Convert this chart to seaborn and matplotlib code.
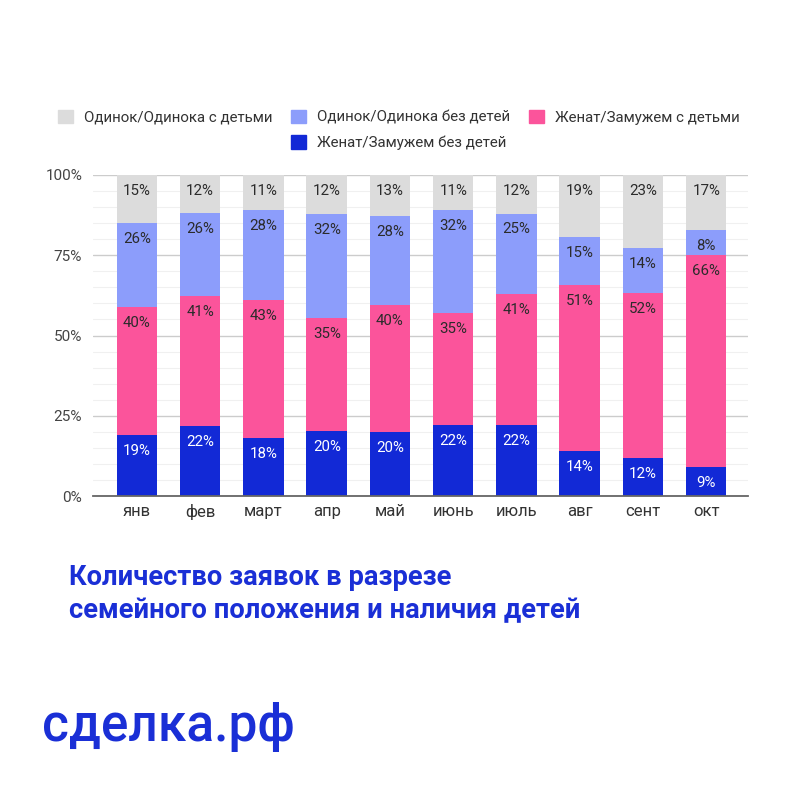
import matplotlib
matplotlib.use("Agg")
import matplotlib.pyplot as plt
import matplotlib.patches as mpatches
import numpy as np
import pandas as pd
import seaborn as sns

# Data (shares in %, as labelled on the chart)
months = ["янв", "фев", "март", "апр", "май", "июнь", "июль", "авг", "сент", "окт"]
married_no_kids = [19, 22, 18, 20, 20, 22, 22, 14, 12, 9]
married_kids = [40, 41, 43, 35, 40, 35, 41, 51, 52, 66]
single_no_kids = [26, 26, 28, 32, 28, 32, 25, 15, 14, 8]
single_kids = [15, 12, 11, 12, 13, 11, 12, 19, 23, 17]

series_names = ["Женат/Замужем без детей", "Женат/Замужем с детьми",
                "Одинок/Одинока без детей", "Одинок/Одинока с детьми"]
colors = ["#1229d6", "#fb549b", "#8c9dfb", "#dcdcdc"]
label_colors = ["white", "#2b2b2b", "#2b2b2b", "#2b2b2b"]

sns.set_theme(style="white")
plt.rcParams["font.family"] = ["Roboto", "DejaVu Sans"]

layers = np.array([married_no_kids, married_kids, single_no_kids, single_kids], dtype=float)
# 100% stacked: normalise each month to its total
shares = layers / layers.sum(axis=0) * 100
tops = np.cumsum(shares, axis=0)

fig = plt.figure(figsize=(8, 8), dpi=100)
ax = fig.add_axes([0.1166, 0.38, 0.8184, 0.40125])

# draw from the tallest (cumulative) layer down so each covers the one below
for i in range(3, -1, -1):
    df = pd.DataFrame({"month": months, "top": tops[i]})
    sns.barplot(data=df, x="month", y="top", color=colors[i], saturation=1,
                width=0.64, linewidth=0, edgecolor="none", ax=ax, zorder=3)

for i in range(4):
    for j, m in enumerate(months):
        ax.annotate(f"{layers[i][j]:.0f}%", xy=(j, tops[i][j]), xytext=(0, -11.5),
                    textcoords="offset points", ha="center", va="center",
                    fontsize=10.8, color=label_colors[i], zorder=5)

ax.set_xlim(-0.69, 9.66)
ax.set_ylim(0, 100)
ax.set_yticks([0, 25, 50, 75, 100])
ax.set_yticklabels(["0%", "25%", "50%", "75%", "100%"])
ax.set_yticks(np.arange(0, 101, 5), minor=True)
ax.grid(axis="y", which="major", color="#cccccc", linewidth=1, zorder=0)
ax.grid(axis="y", which="minor", color="#f0f0f0", linewidth=0.8, zorder=0)
ax.set_axisbelow(True)
ax.set_xlabel("")
ax.set_ylabel("")
for s in ["top", "right", "left"]:
    ax.spines[s].set_visible(False)
ax.spines["bottom"].set_color("#666666")
ax.spines["bottom"].set_linewidth(1.3)
ax.spines["bottom"].set_zorder(4)
ax.tick_params(axis="y", which="both", length=0, labelsize=11, labelcolor="#444444", pad=8)
ax.tick_params(axis="x", length=0, labelsize=12, labelcolor="#333333", pad=6)

# legend: gray | light blue / dark blue | pink
blank = mpatches.Patch(color="none", label="")
h = [mpatches.Patch(color=c, label=n) for c, n in zip(colors, series_names)]
fig.legend(handles=[h[3], blank, h[2], h[0], h[1], blank],
           labels=[series_names[3], "", series_names[2], series_names[0], series_names[1], ""],
           ncol=3, loc="upper left", bbox_to_anchor=(0.072, 1 - 110 / 800),
           frameon=False, fontsize=10.8, handlelength=1.0, handleheight=1.0,
           handletextpad=0.75, columnspacing=1.25, borderpad=0, borderaxespad=0,
           labelspacing=0.7, labelcolor="#333333")

fig.text(0.086, 1 - 594 / 800, "Количество заявок в разрезе\nсемейного положения и наличия детей",
         fontsize=19.7, fontweight="bold", color="#1a2fd6", va="center", ha="left",
         linespacing=1.33)
fig.text(0.052, 1 - 741 / 800, "сделка.рф", fontsize=37, fontweight="medium",
         color="#1a2fd6", va="baseline", ha="left")

fig.savefig("out.png", dpi=100, facecolor="white")
